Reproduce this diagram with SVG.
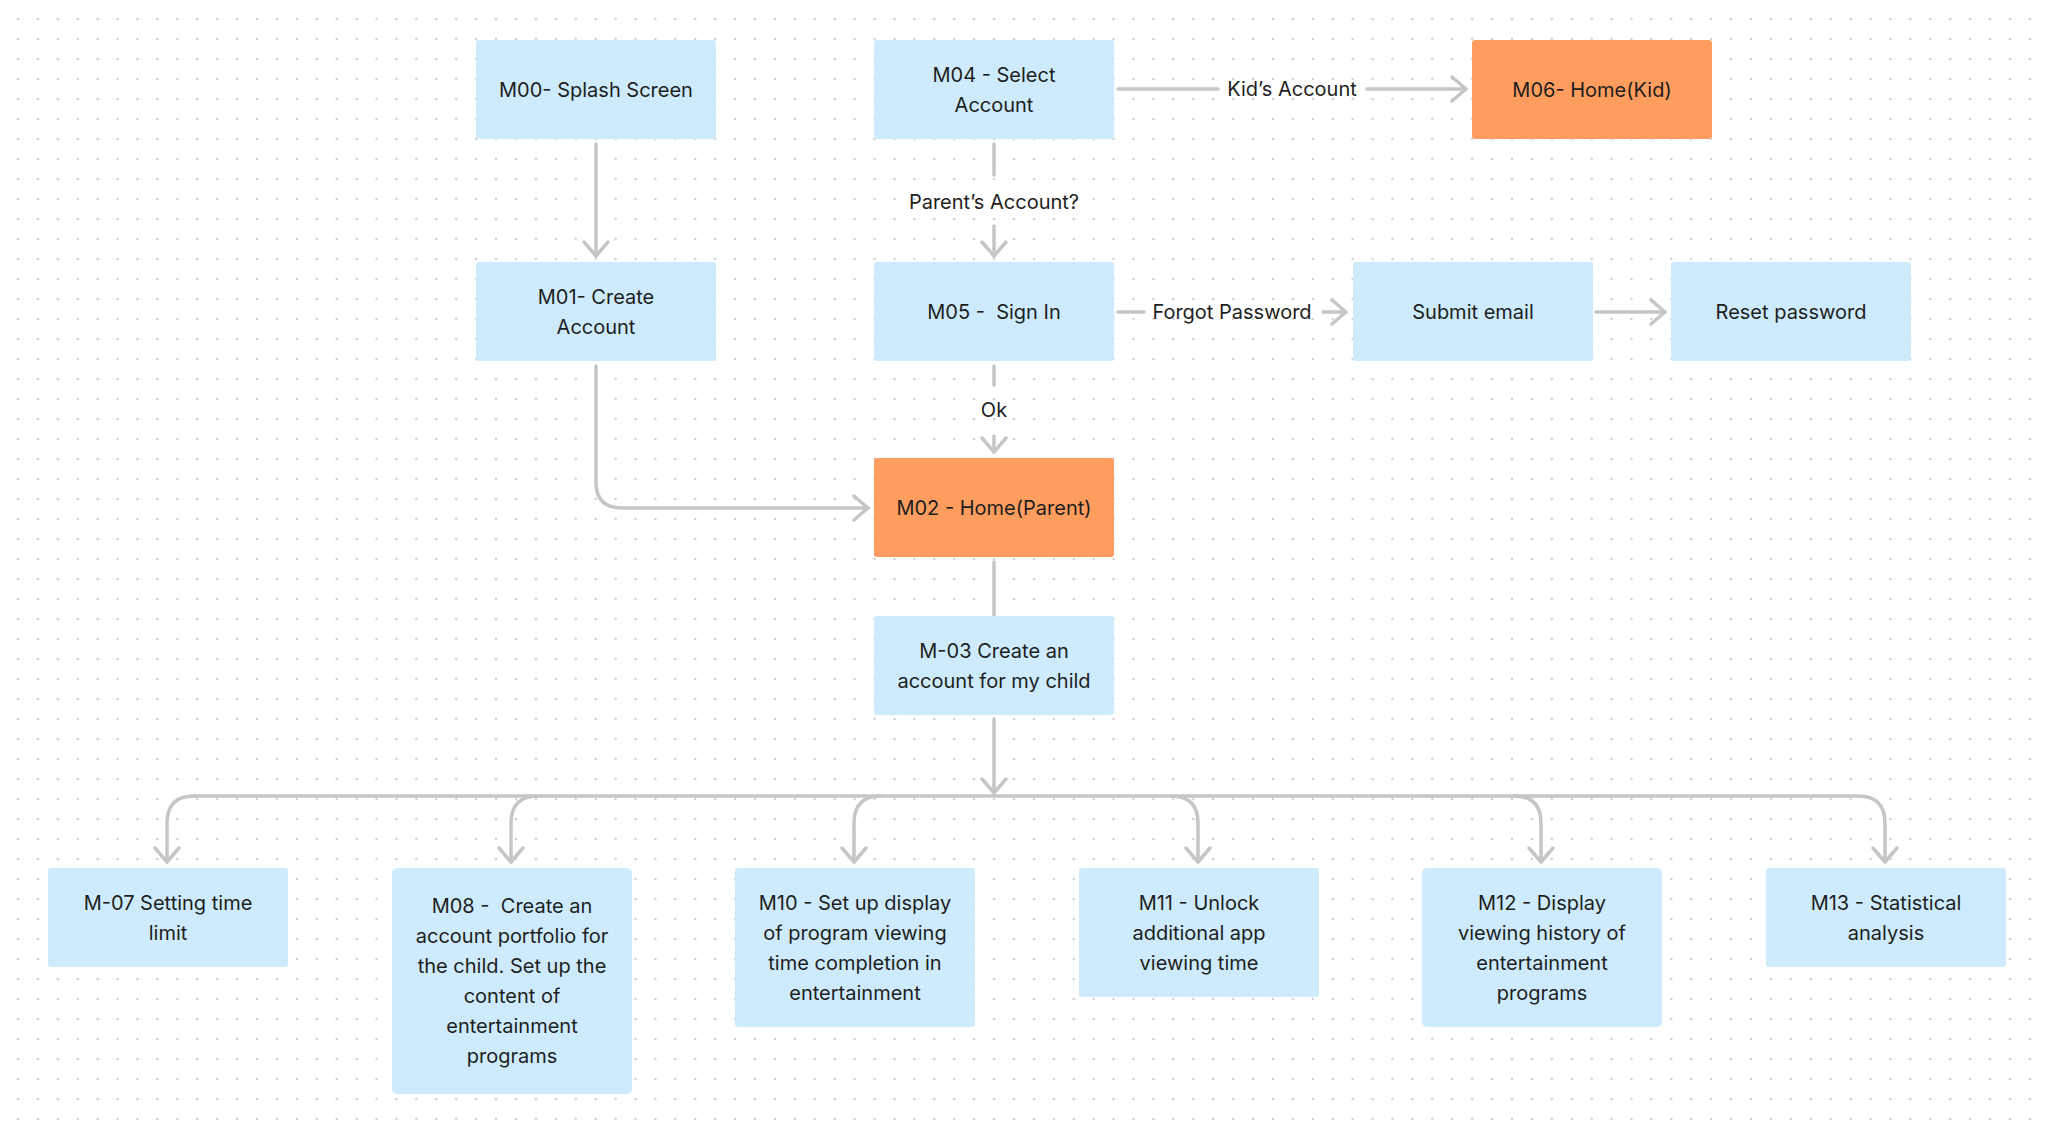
<svg xmlns="http://www.w3.org/2000/svg" width="2048" height="1129" viewBox="0 0 2048 1129">
<defs>
<pattern id="dots" x="8" y="9" width="19.92" height="20" patternUnits="userSpaceOnUse">
<circle cx="10" cy="10" r="1.2" fill="#cfcfcf"/>
</pattern>
<marker id="arr" markerUnits="userSpaceOnUse" viewBox="-16 -14 20 28" refX="0" refY="0" markerWidth="20" markerHeight="28" orient="auto">
<path d="M -14 -12 L 0 0 L -14 12" fill="none" stroke="#c6c6c6" stroke-width="3.5" stroke-linecap="round" stroke-linejoin="round"/>
</marker>
<style>
.blue{fill:#cdebfd}
.orange{fill:#ff9d5f}
.t{font-family:Inter,"Noto Sans","Liberation Sans",sans-serif;font-size:20px;fill:#1e1e1e;text-anchor:middle;dominant-baseline:central;white-space:pre}
.c{fill:none;stroke:#c6c6c6;stroke-width:3.5;stroke-linecap:round}
.a{marker-end:url(#arr)}
</style>
</defs>
<rect width="2048" height="1129" fill="#ffffff"/>
<rect width="2048" height="1129" fill="url(#dots)"/>

<g id="connectors">
<path class="c a" d="M 596 144 L 596 256"/>
<path class="c" d="M 994 144 L 994 175"/>
<text class="t" x="994" y="202">Parent’s Account?</text>
<path class="c a" d="M 994 226 L 994 256"/>
<path class="c" d="M 1118 89 L 1218 89"/>
<text class="t" x="1292" y="89">Kid’s Account</text>
<path class="c a" d="M 1367 89 L 1466 89"/>
<path class="c" d="M 1118 312 L 1144 312"/>
<text class="t" x="1232" y="312">Forgot Password</text>
<path class="c a" d="M 1323 312 L 1346 312"/>
<path class="c a" d="M 1596 312 L 1665 312"/>
<path class="c" d="M 994 366 L 994 385"/>
<text class="t" x="994" y="410">Ok</text>
<path class="c a" d="M 994 436 L 994 452"/>
<path class="c a" d="M 596 366 L 596 482 Q 596 508 622 508 L 868 508"/>
<path class="c" d="M 994 562 L 994 616"/>
<path class="c a" d="M 994 719 L 994 793"/>
<path class="c" d="M 194 796 L 1858 796"/>
<path class="c a" d="M 194 796 Q 167 796 167 823 L 167 862"/>
<path class="c a" d="M 538 796 Q 511 796 511 823 L 511 862"/>
<path class="c a" d="M 881 796 Q 854 796 854 823 L 854 862"/>
<path class="c a" d="M 1171 796 Q 1198 796 1198 823 L 1198 862"/>
<path class="c a" d="M 1514 796 Q 1541 796 1541 823 L 1541 862"/>
<path class="c a" d="M 1858 796 Q 1885 796 1885 823 L 1885 862"/>
</g>

<g id="M00"><rect class="blue" x="476" y="40" width="240" height="99" rx="3"/><text class="t" x="596" y="89.5">M00- Splash Screen</text></g>
<g id="M04"><rect class="blue" x="874" y="40" width="240" height="99" rx="3"/><text class="t" x="994" y="74.5">M04 - Select</text><text class="t" x="994" y="104.5">Account</text></g>
<g id="M06"><rect class="orange" x="1472" y="40" width="240" height="99" rx="3"/><text class="t" x="1592" y="89.5">M06- Home(Kid)</text></g>
<g id="M01"><rect class="blue" x="476" y="262" width="240" height="99" rx="3"/><text class="t" x="596" y="296.5">M01- Create</text><text class="t" x="596" y="326.5">Account</text></g>
<g id="M05"><rect class="blue" x="874" y="262" width="240" height="99" rx="3"/><text class="t" x="994" y="311.5">M05 -  Sign In</text></g>
<g id="SubmitEmail"><rect class="blue" x="1353" y="262" width="240" height="99" rx="3"/><text class="t" x="1473" y="311.5">Submit email</text></g>
<g id="ResetPassword"><rect class="blue" x="1671" y="262" width="240" height="99" rx="3"/><text class="t" x="1791" y="311.5">Reset password</text></g>
<g id="M02"><rect class="orange" x="874" y="458" width="240" height="99" rx="3"/><text class="t" x="994" y="507.5">M02 - Home(Parent)</text></g>
<g id="M03"><rect class="blue" x="874" y="616" width="240" height="99" rx="3"/><text class="t" x="994" y="650.5">M-03 Create an</text><text class="t" x="994" y="680.5">account for my child</text></g>

<g id="M07"><rect class="blue" x="48" y="868" width="240" height="99" rx="3"/><text class="t" x="168" y="902.5">M-07 Setting time</text><text class="t" x="168" y="932.5">limit</text></g>
<g id="M08"><rect class="blue" x="392" y="868" width="240" height="226" rx="5"/>
<text class="t" x="512" y="906">M08 -  Create an</text>
<text class="t" x="512" y="936">account portfolio for</text>
<text class="t" x="512" y="966">the child. Set up the</text>
<text class="t" x="512" y="996">content of</text>
<text class="t" x="512" y="1026">entertainment</text>
<text class="t" x="512" y="1056">programs</text></g>
<g id="M10"><rect class="blue" x="735" y="868" width="240" height="159" rx="3"/>
<text class="t" x="855" y="902.5">M10 - Set up display</text>
<text class="t" x="855" y="932.5">of program viewing</text>
<text class="t" x="855" y="962.5">time completion in</text>
<text class="t" x="855" y="992.5">entertainment</text></g>
<g id="M11"><rect class="blue" x="1079" y="868" width="240" height="129" rx="3"/>
<text class="t" x="1199" y="902.5">M11 - Unlock</text>
<text class="t" x="1199" y="932.5">additional app</text>
<text class="t" x="1199" y="962.5">viewing time</text></g>
<g id="M12"><rect class="blue" x="1422" y="868" width="240" height="159" rx="5"/>
<text class="t" x="1542" y="902.5">M12 - Display</text>
<text class="t" x="1542" y="932.5">viewing history of</text>
<text class="t" x="1542" y="962.5">entertainment</text>
<text class="t" x="1542" y="992.5">programs</text></g>
<g id="M13"><rect class="blue" x="1766" y="868" width="240" height="99" rx="3"/>
<text class="t" x="1886" y="902.5">M13 - Statistical</text>
<text class="t" x="1886" y="932.5">analysis</text></g>
</svg>
